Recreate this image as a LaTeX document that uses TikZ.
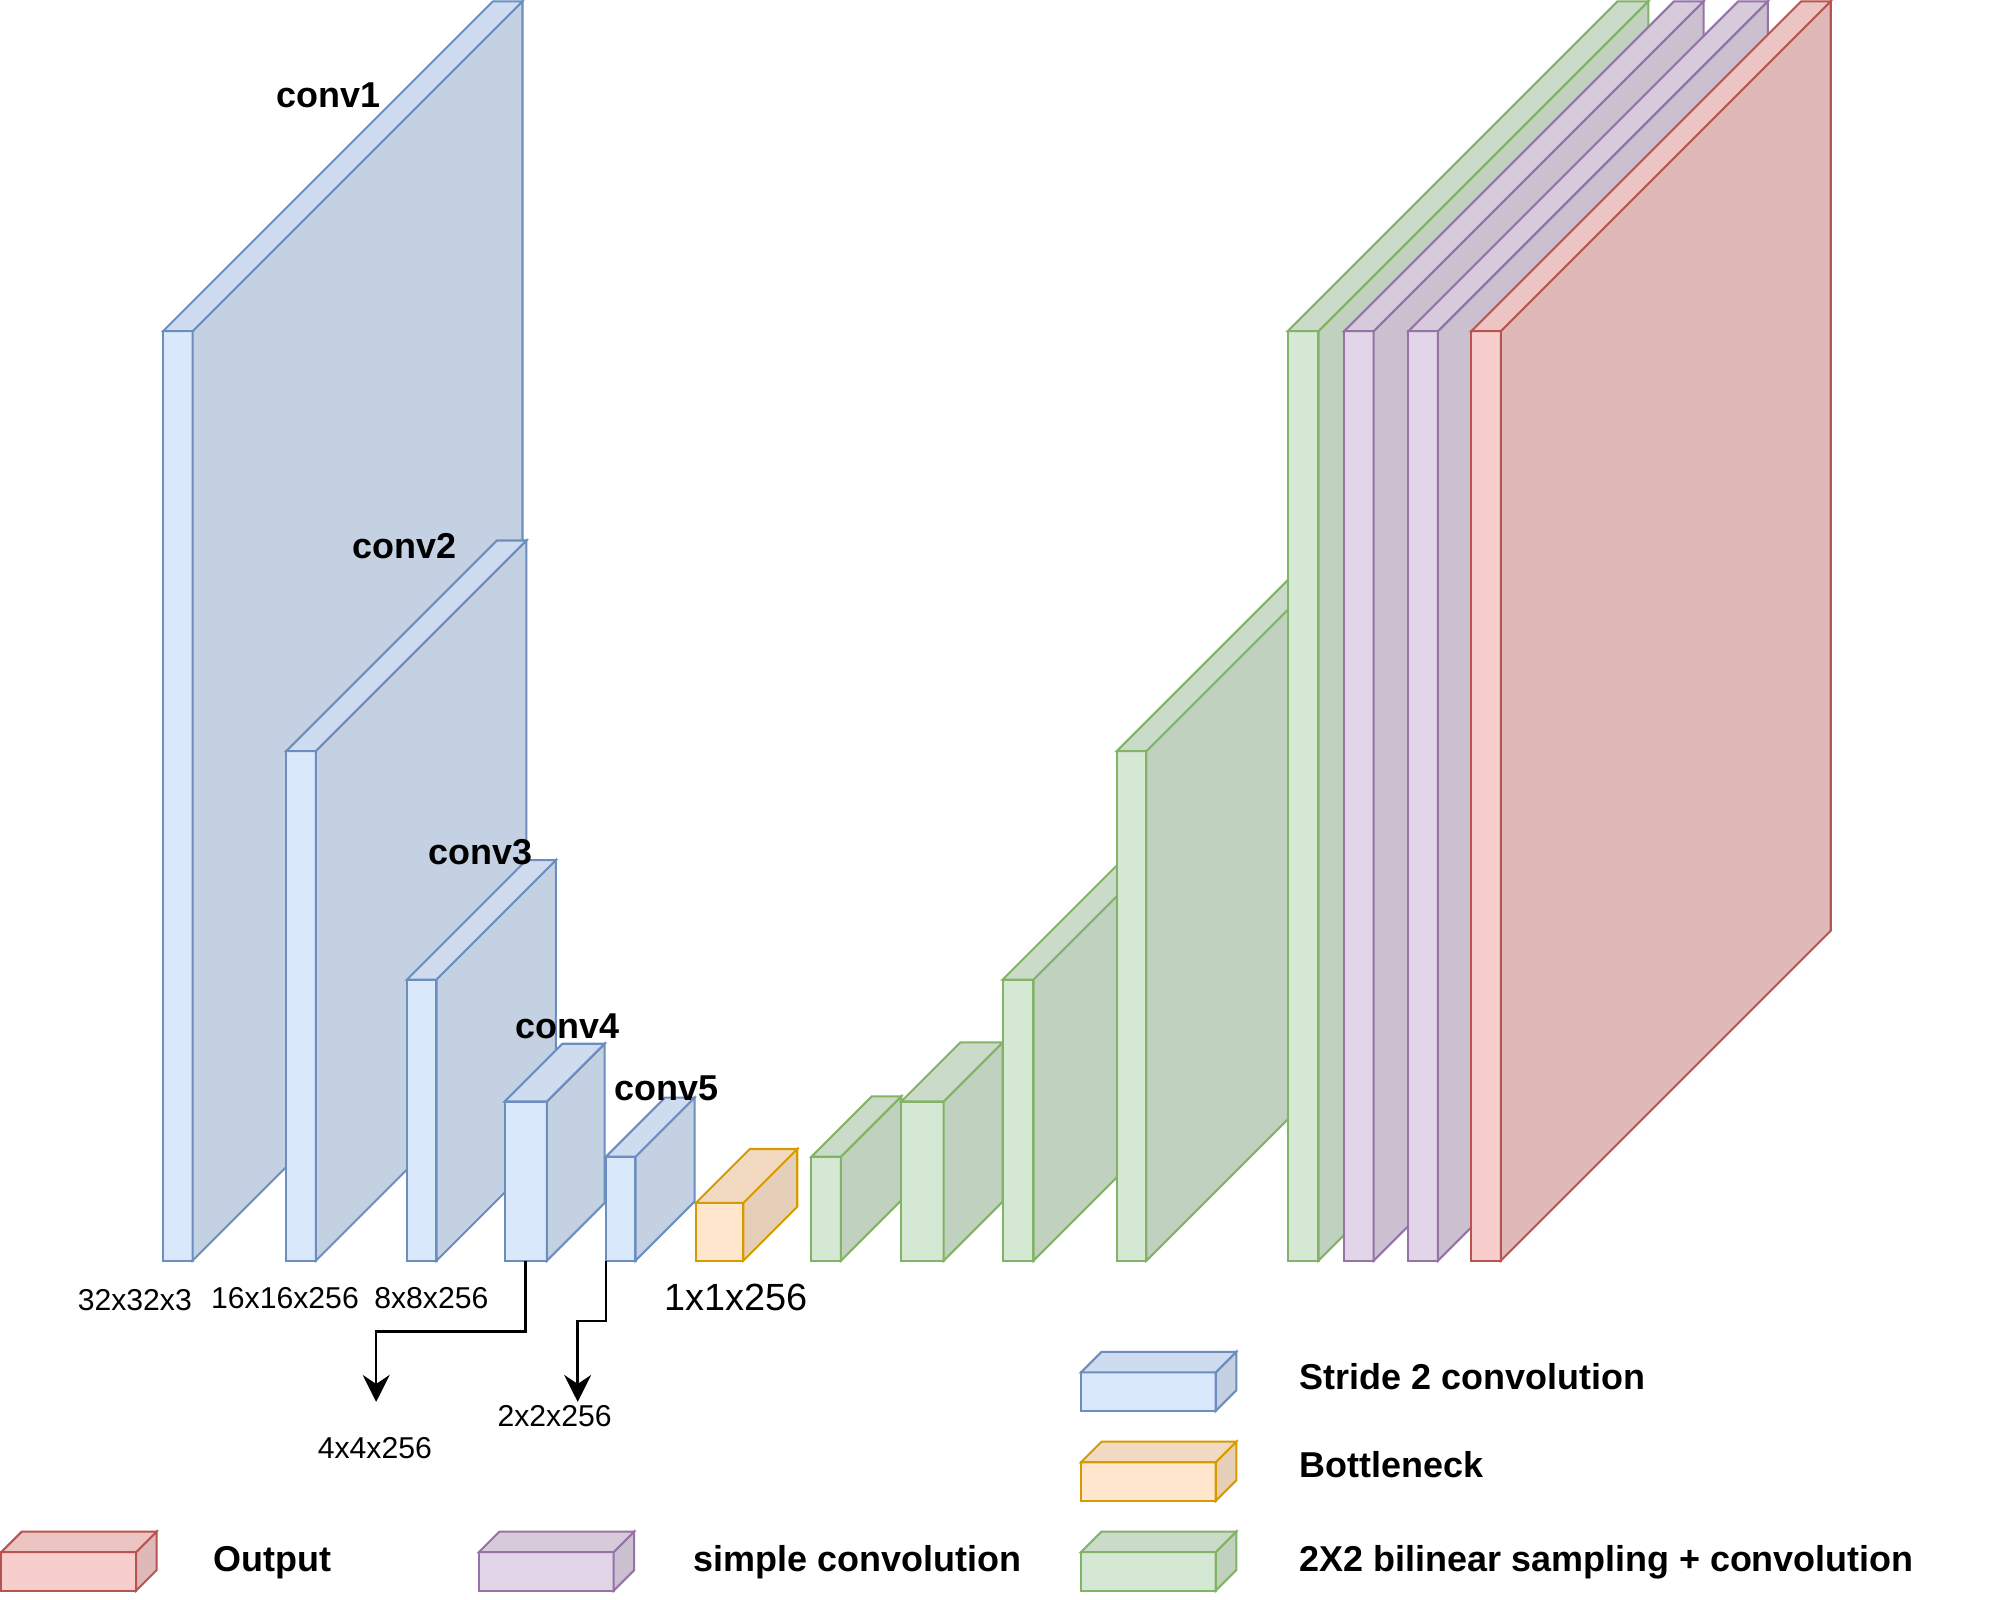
\documentclass[tikz,border=0pt]{standalone}
\usepackage{fontspec}
\setmainfont{Liberation Sans}
\usetikzlibrary{arrows.meta,positioning}

\definecolor{bluefill}{HTML}{DAE8FC}
\definecolor{blueline}{HTML}{6C8EBF}
\definecolor{orangefill}{HTML}{FFE6CC}
\definecolor{orangeline}{HTML}{D79B00}
\definecolor{greenfill}{HTML}{D5E8D4}
\definecolor{greenline}{HTML}{82B366}
\definecolor{purplefill}{HTML}{E1D5E7}
\definecolor{purpleline}{HTML}{9673A6}
\definecolor{redfill}{HTML}{F8CECC}
\definecolor{redline}{HTML}{B85450}

% name, colour, x, bottom y, width, height, depth
\newcommand{\layercube}[7]{%
  \node[cubeface, draw=#2line, fill=#2fill, minimum width=#5pt, minimum height=#6pt] (#1) at (#3,-#4) {};
  \filldraw[cubeline, draw=#2line, fill=#2fill!90!black] (#1.south east) -- ++(#7,#7) -- ([shift={(#7,#7)}]#1.north east) -- (#1.north east) -- cycle;
  \filldraw[cubeline, draw=#2line, fill=#2fill!95!black] (#1.north west) -- ++(#7,#7) -- ([shift={(#7,#7)}]#1.north east) -- (#1.north east) -- cycle;
}

\begin{document}
\begin{tikzpicture}[x=1pt, y=1pt,
    cubeline/.style={line width=1.6pt},
    cubeface/.style={cubeline, rectangle, anchor=south west, inner sep=0pt, outer sep=0pt},
    convlabel/.style={font=\bfseries\fontsize{28}{32}\selectfont, inner sep=0pt, anchor=base},
    legendtext/.style={convlabel, anchor=base west},
    dimlabel/.style={font=\fontsize{23.5}{28}\selectfont, inner sep=0pt, anchor=base},
    flow/.style={-{Stealth[length=21pt, width=21pt, inset=7pt]}, line width=2pt}]
  \useasboundingbox (0,0) rectangle (1568,-1246);

  % encoder
  \layercube{conv1}{blue}{127}{982}{23}{724}{257}
  \layercube{conv2}{blue}{223}{982}{23}{397}{164}
  \layercube{conv3}{blue}{317}{982}{23}{219}{93}
  \layercube{conv4}{blue}{393}{982}{33}{124}{45}
  \layercube{conv5}{blue}{472}{982}{23}{81}{46}
  \layercube{bneck}{orange}{542}{982}{37}{45}{42}
  % decoder
  \layercube{up1}{green}{632}{982}{23}{81}{47}
  \layercube{up2}{green}{702}{982}{33}{124}{46}
  \layercube{up3}{green}{781}{982}{24}{219}{93}
  \layercube{up4}{green}{870}{982}{23}{397}{164}
  \layercube{up5}{green}{1003}{982}{24}{724}{257}
  \layercube{simple1}{purple}{1047}{982}{23}{724}{257}
  \layercube{simple2}{purple}{1097}{982}{23}{724}{257}
  \layercube{output}{red}{1146}{982}{23}{724}{257}

  \node[convlabel] (lconv1) at (256,-84) {conv1};
  \node[convlabel] (lconv2) at (315,-435) {conv2};
  \node[convlabel] (lconv3) at (374,-673) {conv3};
  \node[convlabel] (lconv4) at (442,-809) {conv4};
  \node[convlabel] (lconv5) at (519,-857) {conv5};

  \node[dimlabel] (d1) at (105,-1021) {32x32x3};
  \node[dimlabel] (d2) at (222,-1019) {16x16x256};
  \node[dimlabel] (d3) at (336,-1019) {8x8x256};
  \node[dimlabel, font=\fontsize{29.5}{34}\selectfont] (db) at (573,-1021) {1x1x256};
  \node[dimlabel] (d4) at (292,-1136) {4x4x256};
  \node[dimlabel] (d5) at (432,-1111) {2x2x256};

  \coordinate (t4) at (293,-1092);
  \coordinate (t5) at (450,-1092);
  \draw[flow] (conv4.south) -- ++(0,-55) -| (t4);
  \draw[flow] (conv5.south west) -- ++(0,-47) -| (t5);

  % legend
  \layercube{lgstride}{blue}{842}{1099}{105}{30}{16}
  \layercube{lgbneck}{orange}{842}{1169}{105}{30}{16}
  \layercube{lgup}{green}{842}{1239}{105}{30}{16}
  \layercube{lgout}{red}{1}{1239}{105}{30}{16}
  \layercube{lgsimple}{purple}{373}{1239}{105}{30}{16}
  \node[legendtext] (tstride) at (1012,-1082) {Stride 2 convolution};
  \node[legendtext] (tbneck) at (1012,-1151) {Bottleneck};
  \node[legendtext] (tup) at (1012,-1224) {2X2 bilinear sampling + convolution};
  \node[legendtext] (tout) at (166,-1224) {Output};
  \node[legendtext] (tsimple) at (540,-1224) {simple convolution};
\end{tikzpicture}
\end{document}
